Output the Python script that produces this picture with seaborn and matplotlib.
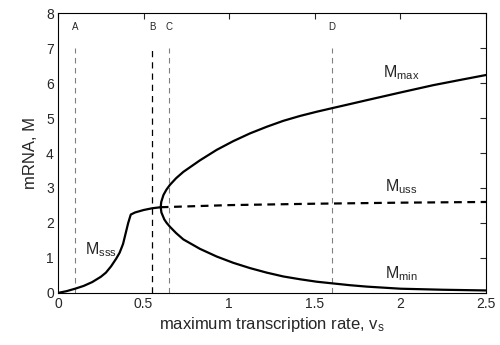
import pandas as pd
import matplotlib
matplotlib.use("Agg")
import matplotlib.pyplot as plt
import seaborn as sns

# stable steady state (left of the bifurcation)
v_sss = [0.0, 0.05, 0.1, 0.15, 0.2, 0.25, 0.28, 0.31, 0.34, 0.36, 0.38, 0.395, 0.41, 0.425,
         0.45, 0.5, 0.55, 0.6]
m_sss = [0.0, 0.05, 0.12, 0.2, 0.31, 0.46, 0.58, 0.76, 0.98, 1.15, 1.4, 1.7, 2.0, 2.24,
         2.3, 2.37, 2.42, 2.45]

# unstable steady state
v_uss = [0.6, 1.0, 1.5, 2.0, 2.5]
m_uss = [2.45, 2.51, 2.55, 2.58, 2.6]

# oscillation envelope, upper branch
v_up = [0.6, 0.603, 0.616, 0.633, 0.654, 0.69, 0.732, 0.829, 0.927, 1.024, 1.121, 1.219, 1.316,
        1.414, 1.511, 1.608, 1.706, 1.803, 2.0, 2.192, 2.35, 2.5]
m_max = [2.45, 2.6, 2.8, 2.95, 3.09, 3.28, 3.46, 3.79, 4.09, 4.34, 4.56, 4.75, 4.92,
         5.06, 5.18, 5.29, 5.4, 5.51, 5.73, 5.94, 6.09, 6.23]
# lower branch
v_lo = [0.6, 0.604, 0.621, 0.635, 0.654, 0.69, 0.732, 0.829, 0.927, 1.024, 1.121, 1.219, 1.316,
        1.414, 1.511, 1.608, 1.706, 1.803, 2.0, 2.25, 2.5]
m_min = [2.45, 2.3, 2.1, 2.0, 1.89, 1.71, 1.53, 1.26, 1.04, 0.86, 0.71, 0.58, 0.47,
         0.39, 0.32, 0.27, 0.22, 0.18, 0.12, 0.09, 0.07]

# marked values of v_s
mark_v = [0.1, 0.55, 0.65, 1.6]
mark_lbl = ["A", "B", "C", "D"]
mark_col = ["#808080", "black", "#808080", "#808080"]

sns.set_style("white")
plt.rcParams["font.family"] = ["Liberation Sans", "DejaVu Sans"]
plt.rcParams["mathtext.default"] = "regular"

fig = plt.figure(figsize=(5, 3.45), dpi=100)
ax = fig.add_axes([0.116, 0.151, 0.856, 0.811])

for v, lbl, c in zip(mark_v, mark_lbl, mark_col):
    ax.plot([v, v], [0, 7], ls=(0, (5, 4)), color=c, lw=0.9 if c == "black" else 0.8, zorder=1)
    ax.text(v, 7.6, lbl, ha="center", va="center", fontsize=7)

sss = pd.DataFrame({"v": v_sss, "M": m_sss})
sns.lineplot(data=sss, x="v", y="M", color="black", lw=1.6, ax=ax, zorder=3)

uss = pd.DataFrame({"v": v_uss, "M": m_uss})
sns.lineplot(data=uss, x="v", y="M", color="black", lw=1.6, ax=ax, zorder=3,
             linestyle=(0, (3.5, 2.5)))

# lower branch reversed + upper branch -> one curve round the tip
osc = pd.DataFrame({"v": v_lo[::-1] + v_up[1:], "M": m_min[::-1] + m_max[1:]})
sns.lineplot(data=osc, x="v", y="M", color="black", lw=1.6, ax=ax, zorder=3,
             sort=False, estimator=None)

ax.text(0.155, 1.25, "M$_{sss}$", fontsize=11.5, va="center")
ax.text(1.9, 6.3, "M$_{max}$", fontsize=11.5, va="center")
ax.text(1.91, 3.05, "M$_{uss}$", fontsize=11.5, va="center")
ax.text(1.91, 0.55, "M$_{min}$", fontsize=11.5, va="center")

ax.set_xlim(0, 2.5)
ax.set_ylim(0, 8)
ax.set_xticks([0, 0.5, 1, 1.5, 2, 2.5])
ax.set_xticklabels(["0", "0.5", "1", "1.5", "2", "2.5"])
ax.set_yticks(range(0, 9))
ax.tick_params(direction="in", length=4, width=0.8, top=True, right=True,
               labelsize=10, pad=3)
for s in ax.spines.values():
    s.set_color("black")
    s.set_linewidth(0.8)
ax.set_xlabel("maximum transcription rate, v$_s$", fontsize=12, labelpad=3)
ax.set_ylabel("mRNA, M", fontsize=12, labelpad=6)

fig.savefig("out.png", dpi=100)
